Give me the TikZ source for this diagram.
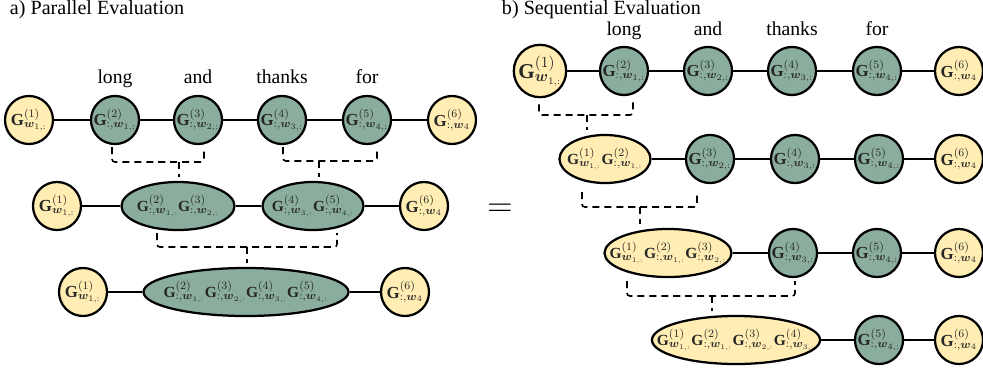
\documentclass[tikz,border=0pt]{standalone}
\usepackage{amsmath,amssymb}
\usepackage{fontspec}
\setmainfont{Liberation Serif}
\usetikzlibrary{positioning,shapes.geometric,calc}
\definecolor{sage}{RGB}{138,173,158}
\definecolor{cream}{RGB}{255,237,179}
\newcommand{\Gfirst}{\mathbf{G}^{(1)}_{\boldsymbol{w}_{1,:}}}
\newcommand{\Gmid}[2]{\mathbf{G}^{(#1)}_{:,\boldsymbol{w}_{#2,:}}}
\newcommand{\Glast}{\mathbf{G}^{(6)}_{:,\boldsymbol{w}_{4}}}
\newcommand{\Gchain}[1]{\makebox[0pt]{$#1$}}

\begin{document}
\begin{tikzpicture}[x=0.025cm,y=-0.025cm,
						gnode/.style={circle, draw=black, line width=1.6pt, fill=sage, minimum size=1.2cm, inner sep=0pt, text=black!85, font=\fontsize{12}{14}\selectfont},
						ynode/.style={gnode, fill=cream},
						gell/.style={ellipse, draw=black, line width=1.6pt, fill=sage, minimum height=1.2cm, inner sep=0pt, text=black!85, font=\fontsize{11}{13}\selectfont},
						yell/.style={gell, fill=cream},
						word/.style={anchor=base, font=\fontsize{14}{16}\selectfont},
						title/.style={anchor=base west, font=\fontsize{14.3}{16}\selectfont},
						link/.style={line width=1.2pt},
						bracket/.style={line width=1.1pt, dash pattern=on 5pt off 3.5pt, rounded corners=2pt},
						]
						\useasboundingbox (0,0) rectangle (983,374);
						%Titles
						\node[title] (ta) at (5,15) {a) Parallel Evaluation};
						\node[title] (tb) at (497,15) {b) Sequential Evaluation};
						\node[font=\fontsize{24}{26}\selectfont] (eq) at (500,210) {$=$};

						%Nodes: parallel evaluation
						\node[ynode]                       (p11) at (29,120)  {$\Gfirst$};
						\node[gnode]                       (p12) at (115,120) {$\Gmid{2}{1}$};
						\node[gnode]                       (p13) at (198,120) {$\Gmid{3}{2}$};
						\node[gnode]                       (p14) at (282,120) {$\Gmid{4}{3}$};
						\node[gnode]                       (p15) at (367,120) {$\Gmid{5}{4}$};
						\node[ynode]                       (p16) at (452,120) {$\Glast$};
						\node[word] (wp2) at (115,83) {long};
						\node[word] (wp3) at (198,83) {and};
						\node[word] (wp4) at (282,83) {thanks};
						\node[word] (wp5) at (367,83) {for};

						\node[ynode]                       (p21) at (57,206)  {$\Gfirst$};
						\node[gell, minimum width=2.825cm] (p22) at (178,206) {\Gchain{\Gmid{2}{1}\Gmid{3}{2}}};
						\node[gell, minimum width=2.525cm] (p23) at (313,206) {\Gchain{\Gmid{4}{3}\Gmid{5}{4}}};
						\node[ynode]                       (p24) at (424,206) {$\Glast$};

						\node[ynode]                       (p31) at (83,292)  {$\Gfirst$};
						\node[gell, minimum width=5.125cm] (p32) at (246,292) {\Gchain{\Gmid{2}{1}\Gmid{3}{2}\Gmid{4}{3}\Gmid{5}{4}}};
						\node[ynode]                       (p33) at (405,292) {$\Glast$};

						%Nodes: sequential evaluation
						\node[ynode, minimum size=1.275cm, font=\fontsize{15}{17}\selectfont] (s11) at (540,71) {$\Gfirst$};
						\node[gnode]                       (s12) at (624,71) {$\Gmid{2}{1}$};
						\node[gnode]                       (s13) at (708,71) {$\Gmid{3}{2}$};
						\node[gnode]                       (s14) at (792,71) {$\Gmid{4}{3}$};
						\node[gnode]                       (s15) at (877,71) {$\Gmid{5}{4}$};
						\node[ynode]                       (s16) at (959,71) {$\Glast$};
						\node[word] (ws2) at (624,36) {long};
						\node[word] (ws3) at (708,36) {and};
						\node[word] (ws4) at (792,36) {thanks};
						\node[word] (ws5) at (877,36) {for};

						\node[yell, minimum width=2.275cm] (s21) at (605,159) {\Gchain{\Gfirst\Gmid{2}{1}}};
						\node[gnode]                       (s22) at (710,159) {$\Gmid{3}{2}$};
						\node[gnode]                       (s23) at (795,159) {$\Gmid{4}{3}$};
						\node[gnode]                       (s24) at (879,159) {$\Gmid{5}{4}$};
						\node[ynode]                       (s25) at (959,159) {$\Glast$};

						\node[yell, minimum width=3.175cm] (s31) at (668,253) {\Gchain{\Gfirst\Gmid{2}{1}\Gmid{3}{2}}};
						\node[gnode]                       (s32) at (793,253) {$\Gmid{4}{3}$};
						\node[gnode]                       (s33) at (877,253) {$\Gmid{5}{4}$};
						\node[ynode]                       (s34) at (959,253) {$\Glast$};

						\node[yell, minimum width=4.2cm]   (s41) at (736,340) {\Gchain{\Gfirst\Gmid{2}{1}\Gmid{3}{2}\Gmid{4}{3}}};
						\node[gnode]                       (s42) at (879,340) {$\Gmid{5}{4}$};
						\node[ynode]                       (s43) at (959,340) {$\Glast$};

						%Lines
						\draw[link] (p11) -- (p12) -- (p13) -- (p14) -- (p15) -- (p16);
						\draw[link] (p21) -- (p22) -- (p23) -- (p24);
						\draw[link] (p31) -- (p32) -- (p33);
						\draw[link] (s11) -- (s12) -- (s13) -- (s14) -- (s15) -- (s16);
						\draw[link] (s21) -- (s22) -- (s23) -- (s24) -- (s25);
						\draw[link] (s31) -- (s32) -- (s33) -- (s34);
						\draw[link] (s41) -- (s42) -- (s43);

						%Brackets
						\coordinate (m1) at (179,162);
						\coordinate (m2) at (319,161);
						\coordinate (m3) at (247,247);
						\coordinate (m4) at (587,115);
						\coordinate (m5) at (640,207);
						\coordinate (m6) at (712,296);
						\draw[bracket] ($(p12.south)+(-3,2)$) |- (m1) -| ($(p13.south)+(6,2)$);
						\draw[bracket] ($(p14.south)+(1,2)$) |- (m2) -| ($(p15.south)+(10,2)$);
						\draw[bracket] ($(p22.south)+(-21,2)$) |- (m3) -| ($(p23.south)+(24,2)$);
						\draw[bracket] ($(s11.south)+(-1,6)$) |- (m4) -| ($(s12.south)+(9,6)$);
						\draw[bracket] ($(s21.south)+(-23,8)$) |- (m5) -| ($(s22.south)+(-13,8)$);
						\draw[bracket] ($(s31.south)+(-41,3)$) |- (m6) -| ($(s32.south)+(2,3)$);
						\draw[bracket, shorten >=3pt] (m1) -- (m1 |- p22.north);
						\draw[bracket, shorten >=3pt] (m2) -- (m2 |- p23.north);
						\draw[bracket, shorten >=3pt] (m3) -- (m3 |- p32.north);
						\draw[bracket, shorten >=3pt] (m4) -- (m4 |- s21.north);
						\draw[bracket, shorten >=3pt] (m5) -- (m5 |- s31.north);
						\draw[bracket, shorten >=3pt] (m6) -- (m6 |- s41.north);
					\end{tikzpicture}
\end{document}
